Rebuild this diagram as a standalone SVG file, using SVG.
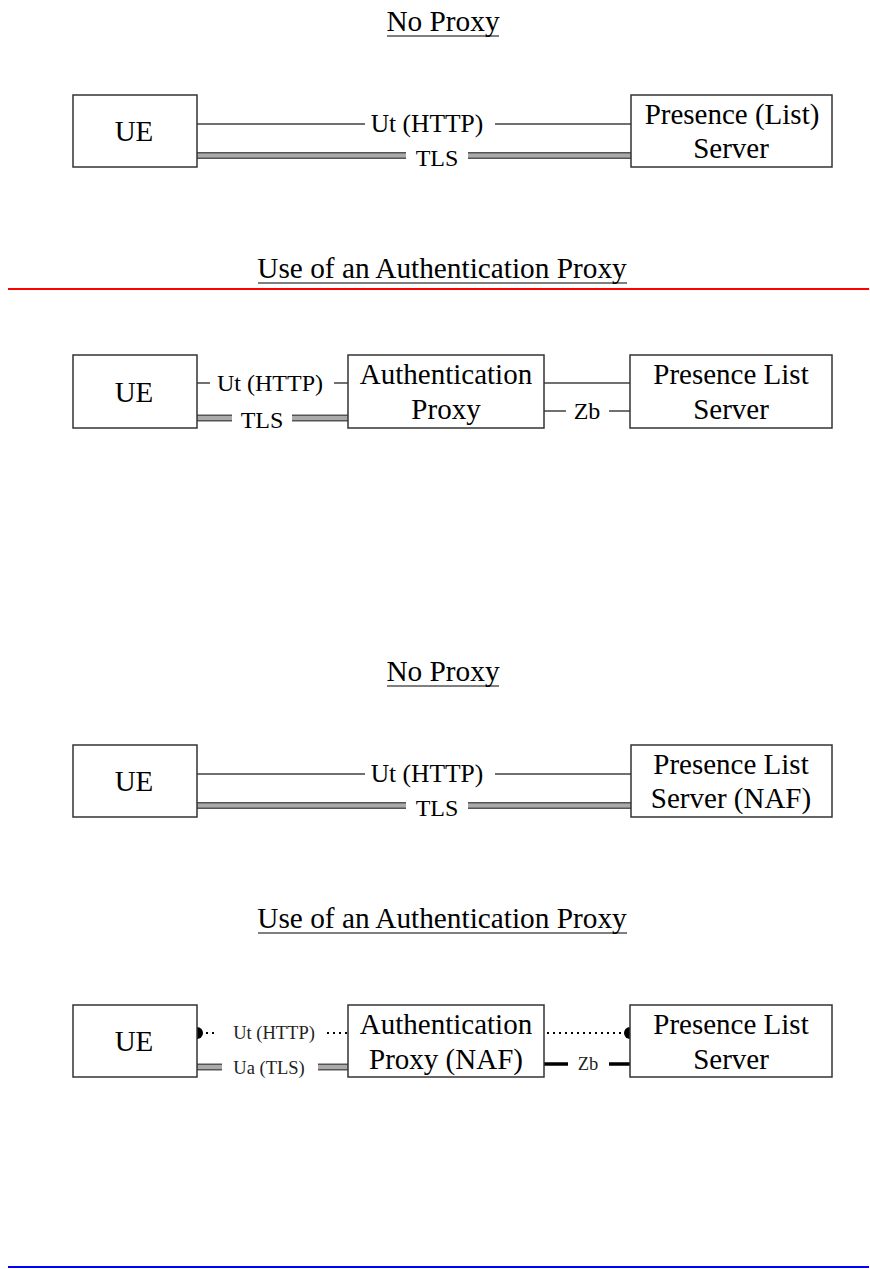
<svg xmlns="http://www.w3.org/2000/svg" width="870" height="1269" viewBox="0 0 870 1269">
  <style>
    .box { fill: #ffffff; stroke: #333333; stroke-width: 1.5; }
    .name { font-family: "Liberation Serif", "Times New Roman", serif; font-size: 29px; fill: #000; text-anchor: middle; }
    .title { font-family: "Liberation Serif", "Times New Roman", serif; font-size: 29.3px; fill: #000; text-anchor: middle; }
    .lbl { font-family: "Liberation Serif", "Times New Roman", serif; font-size: 24px; fill: #000; text-anchor: middle; }
    .lbl-w { font-family: "Liberation Serif", "Times New Roman", serif; font-size: 25.5px; fill: #000; text-anchor: middle; }
    .lbl-s { font-family: "Liberation Serif", "Times New Roman", serif; font-size: 18.5px; fill: #222; text-anchor: middle; }
    .thin { stroke: #404040; stroke-width: 1.5; fill: none; }
    .tls-out { stroke: #555555; stroke-width: 7; fill: none; }
    .tls-in { stroke: #aaaaaa; stroke-width: 4; fill: none; }
    .dots { stroke: #000; stroke-width: 2; stroke-dasharray: 2 4; fill: none; }
    .thick { stroke: #000; stroke-width: 3.5; fill: none; }
    .uline { stroke: #000; stroke-width: 1.2; }
  </style>

  <!-- section titles -->
  <g id="titles">
    <text class="title" x="443" y="31">No Proxy</text>
    <line class="uline" x1="387" y1="36" x2="499" y2="36"/>
    <text class="title" x="442" y="278">Use of an Authentication Proxy</text>
    <line class="uline" x1="258" y1="283" x2="627" y2="283"/>
    <text class="title" x="443" y="681">No Proxy</text>
    <line class="uline" x1="387" y1="686" x2="499" y2="686"/>
    <text class="title" x="442" y="928">Use of an Authentication Proxy</text>
    <line class="uline" x1="258" y1="933" x2="627" y2="933"/>
  </g>

  <!-- page rules -->
  <line x1="8" y1="289" x2="869" y2="289" stroke="#ff0000" stroke-width="2"/>
  <line x1="8" y1="1267" x2="869" y2="1267" stroke="#0000ff" stroke-width="2"/>

  <!-- connectors -->
  <g id="connectors">
    <!-- diagram 1 -->
    <line class="thin" x1="197" y1="124" x2="365" y2="124"/>
    <line class="thin" x1="495" y1="124" x2="631" y2="124"/>
    <text class="lbl-w" x="427" y="132">Ut (HTTP)</text>
    <line class="tls-out" x1="197" y1="155.5" x2="406" y2="155.5"/>
    <line class="tls-in" x1="197" y1="155.5" x2="406" y2="155.5"/>
    <line class="tls-out" x1="468" y1="155.5" x2="631" y2="155.5"/>
    <line class="tls-in" x1="468" y1="155.5" x2="631" y2="155.5"/>
    <text class="lbl" x="437" y="166">TLS</text>

    <!-- diagram 2 -->
    <line class="thin" x1="197" y1="383" x2="210" y2="383"/>
    <text class="lbl" x="270" y="391">Ut (HTTP)</text>
    <line class="thin" x1="334" y1="383" x2="348" y2="383"/>
    <line class="tls-out" x1="197" y1="418" x2="232" y2="418"/>
    <line class="tls-in" x1="197" y1="418" x2="232" y2="418"/>
    <text class="lbl" x="262" y="428">TLS</text>
    <line class="tls-out" x1="292" y1="418" x2="348" y2="418"/>
    <line class="tls-in" x1="292" y1="418" x2="348" y2="418"/>
    <line class="thin" x1="544" y1="383" x2="630" y2="383"/>
    <line class="thin" x1="544" y1="411" x2="566" y2="411"/>
    <text class="lbl" x="587" y="419">Zb</text>
    <line class="thin" x1="609" y1="411" x2="630" y2="411"/>

    <!-- diagram 3 -->
    <line class="thin" x1="197" y1="774" x2="365" y2="774"/>
    <line class="thin" x1="495" y1="774" x2="631" y2="774"/>
    <text class="lbl-w" x="427" y="782">Ut (HTTP)</text>
    <line class="tls-out" x1="197" y1="805.5" x2="406" y2="805.5"/>
    <line class="tls-in" x1="197" y1="805.5" x2="406" y2="805.5"/>
    <line class="tls-out" x1="468" y1="805.5" x2="631" y2="805.5"/>
    <line class="tls-in" x1="468" y1="805.5" x2="631" y2="805.5"/>
    <text class="lbl" x="437" y="816">TLS</text>

    <!-- diagram 4 -->
    <path d="M197,1027 A6,6 0 0 1 197,1039 Z" fill="#000"/>
    <line class="dots" x1="206" y1="1033" x2="218" y2="1033"/>
    <text class="lbl-s" x="274" y="1039">Ut (HTTP)</text>
    <line class="dots" x1="327" y1="1033" x2="348" y2="1033"/>
    <line class="dots" x1="547" y1="1033" x2="623" y2="1033"/>
    <path d="M630,1027 A6,6 0 0 0 630,1039 Z" fill="#000"/>
    <line class="tls-out" x1="197" y1="1067" x2="222" y2="1067"/>
    <line class="tls-in" x1="197" y1="1067" x2="222" y2="1067"/>
    <text class="lbl-s" x="269" y="1074">Ua (TLS)</text>
    <line class="tls-out" x1="318" y1="1067" x2="348" y2="1067"/>
    <line class="tls-in" x1="318" y1="1067" x2="348" y2="1067"/>
    <line class="thick" x1="544" y1="1064" x2="568" y2="1064"/>
    <text class="lbl-s" x="588" y="1070">Zb</text>
    <line class="thick" x1="609" y1="1064" x2="630" y2="1064"/>
  </g>

  <!-- diagram 1 nodes -->
  <g id="ue-1">
    <rect class="box" x="73" y="95" width="124" height="72"/>
    <text class="name" x="134" y="141">UE</text>
  </g>
  <g id="server-1">
    <rect class="box" x="631" y="95" width="201" height="72"/>
    <text class="name" x="732" y="124">Presence (List)</text>
    <text class="name" x="731" y="158">Server</text>
  </g>

  <!-- diagram 2 nodes -->
  <g id="ue-2">
    <rect class="box" x="73" y="355" width="124" height="73"/>
    <text class="name" x="134" y="402">UE</text>
  </g>
  <g id="proxy-2">
    <rect class="box" x="348" y="355" width="196" height="73"/>
    <text class="name" x="446" y="384">Authentication</text>
    <text class="name" x="446" y="419">Proxy</text>
  </g>
  <g id="server-2">
    <rect class="box" x="630" y="355" width="202" height="73"/>
    <text class="name" x="731" y="384">Presence List</text>
    <text class="name" x="731" y="419">Server</text>
  </g>

  <!-- diagram 3 nodes -->
  <g id="ue-3">
    <rect class="box" x="73" y="745" width="124" height="72"/>
    <text class="name" x="134" y="791">UE</text>
  </g>
  <g id="server-3">
    <rect class="box" x="631" y="745" width="201" height="72"/>
    <text class="name" x="731" y="774">Presence List</text>
    <text class="name" x="731" y="808">Server (NAF)</text>
  </g>

  <!-- diagram 4 nodes -->
  <g id="ue-4">
    <rect class="box" x="73" y="1005" width="124" height="72"/>
    <text class="name" x="134" y="1051">UE</text>
  </g>
  <g id="proxy-4">
    <rect class="box" x="348" y="1005" width="196" height="72"/>
    <text class="name" x="446" y="1034">Authentication</text>
    <text class="name" x="446" y="1069">Proxy (NAF)</text>
  </g>
  <g id="server-4">
    <rect class="box" x="630" y="1005" width="202" height="72"/>
    <text class="name" x="731" y="1034">Presence List</text>
    <text class="name" x="731" y="1069">Server</text>
  </g>
</svg>
